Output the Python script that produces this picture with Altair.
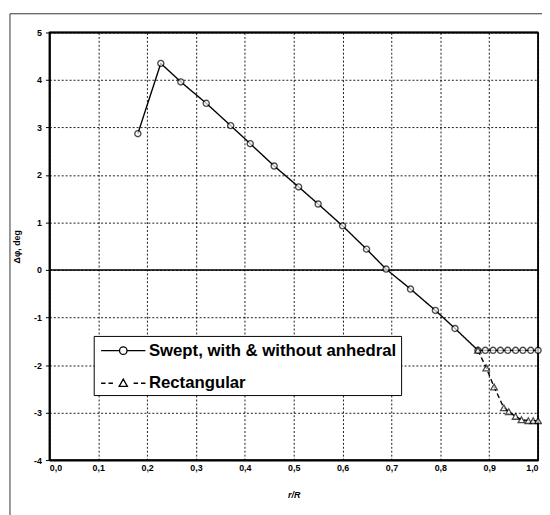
import altair as alt
import pandas as pd

# ---- data ----
swept_r = [0.181, 0.228, 0.269, 0.321, 0.371, 0.411, 0.460, 0.510, 0.550, 0.600,
           0.649, 0.689, 0.739, 0.790, 0.830, 0.877, 0.892, 0.908, 0.923, 0.938,
           0.954, 0.969, 0.985, 1.000]
swept_dphi = [2.87, 4.35, 3.96, 3.51, 3.04, 2.66, 2.19, 1.75, 1.39, 0.93,
              0.44, 0.02, -0.40, -0.85, -1.23, -1.69, -1.69, -1.69, -1.69, -1.69,
              -1.69, -1.69, -1.69, -1.69]
rect_r = [0.877, 0.894, 0.910, 0.930, 0.940, 0.954, 0.966, 0.980, 0.990, 1.000]
rect_dphi = [-1.69, -2.06, -2.46, -2.90, -2.98, -3.08, -3.15, -3.17, -3.17, -3.17]

series_names = ["Swept, with & without anhedral", "Rectangular"]
x_ticks = [0.0, 0.1, 0.2, 0.3, 0.4, 0.5, 0.6, 0.7, 0.8, 0.9, 1.0]
y_ticks = [-4, -3, -2, -1, 0, 1, 2, 3, 4, 5]

df = pd.concat([
    pd.DataFrame({"r": swept_r, "dphi": swept_dphi, "series": series_names[0]}),
    pd.DataFrame({"r": rect_r, "dphi": rect_dphi, "series": series_names[1]}),
], ignore_index=True)

FONT = "Liberation Sans"

x_enc = alt.X("r:Q", scale=alt.Scale(domain=[0, 1], nice=False, zero=False),
              axis=alt.Axis(values=x_ticks, title="r/R", grid=True,
                            labelExpr="replace(format(datum.value, '.1f'), '.', ',')",
                            ticks=False, labelPadding=4, titlePadding=18,
                            titleFontStyle="italic"))
y_enc = alt.Y("dphi:Q", scale=alt.Scale(domain=[-4, 5], nice=False, zero=False),
              axis=alt.Axis(values=y_ticks, title="Δφ, deg", tickSize=4, grid=True,
                            labelExpr="'' + datum.value",
                            labelPadding=4, titlePadding=12))

base = alt.Chart(df)

lines = base.mark_line(color="black", strokeWidth=1.4).encode(
    x=x_enc, y=y_enc,
    detail="series:N",
    strokeDash=alt.StrokeDash("series:N",
                              scale=alt.Scale(domain=series_names, range=[[1, 0], [5, 3]]),
                              legend=None),
)

circles = base.transform_filter(alt.datum.series == series_names[0]).mark_point(
    shape="circle", size=38, filled=True, fill="white", stroke="black", strokeWidth=1.4
).encode(x="r:Q", y="dphi:Q")

triangles = base.transform_filter(alt.datum.series == series_names[1]).mark_point(
    shape="triangle-up", size=45, filled=True, fill="white", stroke="black", strokeWidth=1.3
).encode(x="r:Q", y="dphi:Q")

one = alt.Data(values=[{"k": 0}])
zero_line = alt.Chart(one).mark_rule(color="black", strokeWidth=1.5).encode(y=alt.datum(0))
top_line = alt.Chart(one).mark_rule(color="black", strokeWidth=2).encode(y=alt.datum(5))
right_line = alt.Chart(one).mark_rule(color="black", strokeWidth=1.5).encode(x=alt.datum(1))

swept_sym = ("M-2.25,0L-0.38,0M0.38,0L2.25,0"
             "M-0.38,0A0.38,0.38,0,1,1,0.38,0A0.38,0.38,0,1,1,-0.38,0Z")
rect_sym = ("M-2.25,0L-1.8,0M-1.5,0L-1.05,0M1.05,0L1.5,0M1.8,0L2.25,0"
            "M0,-0.42L0.42,0.32L-0.42,0.32Z")

legend_layer = base.mark_point(opacity=0, filled=False, color="black", strokeWidth=1.3).encode(
    x="r:Q", y="dphi:Q",
    shape=alt.Shape("series:N",
                    scale=alt.Scale(domain=series_names, range=[swept_sym, rect_sym]),
                    legend=alt.Legend(orient="none", legendX=45, legendY=308,
                                      title=None, symbolSize=400,
                                      symbolStrokeColor="black",
                                      symbolFillColor="white",
                                      symbolStrokeWidth=1.3,
                                      symbolOpacity=1,
                                      symbolOffset=15, labelOffset=15,
                                      labelFont=FONT, labelFontSize=17,
                                      labelFontWeight="bold", labelColor="black",
                                      labelLimit=400,
                                      rowPadding=14, padding=4,
                                      strokeColor="black", fillColor="white")),
)

frame_left = alt.Chart(one).mark_rule(color="#333333", strokeWidth=1).encode(
    x=alt.value(-40), y=alt.value(-19), y2=alt.value(490))
frame_top = alt.Chart(one).mark_rule(color="#333333", strokeWidth=1).encode(
    x=alt.value(-40), x2=alt.value(510), y=alt.value(-19))

chart = alt.layer(
    lines, zero_line, top_line, right_line, frame_left, frame_top,
    circles, triangles, legend_layer
).resolve_scale(
    shape="independent", strokeDash="independent"
).properties(
    width=496, height=434,
    autosize=alt.AutoSizeParams(type="none"),
    padding={"left": 42, "top": 21, "right": 4, "bottom": 60},
).configure_view(
    stroke="black", strokeWidth=1.5
).configure_axis(
    labelFont=FONT, labelFontSize=9, labelFontWeight="bold", labelColor="black",
    titleFont=FONT, titleFontSize=9, titleFontWeight="bold", titleColor="black",
    domainColor="black", domainWidth=2, tickColor="black",
    gridColor="black", gridDash=[2, 2], gridWidth=1, gridOpacity=0.9,
)

chart.save("out.html", embed_options={"renderer": "svg", "actions": False})
